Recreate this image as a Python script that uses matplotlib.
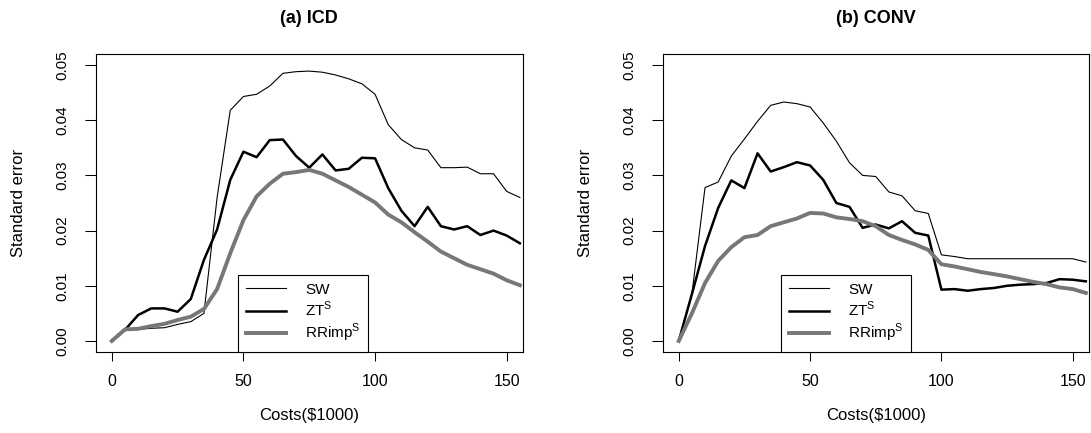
import numpy as np
import matplotlib
matplotlib.use("Agg")
import matplotlib.pyplot as plt

plt.rcParams['font.family'] = ['Liberation Sans', 'DejaVu Sans']
plt.rcParams['mathtext.fontset'] = 'custom'
plt.rcParams['mathtext.rm'] = 'Liberation Sans'

# costs in $1000
costs = [0, 5, 10, 15, 20, 25, 30, 35, 40, 45, 50, 55, 60, 65, 70, 75,
         80, 85, 90, 95, 100, 105, 110, 115, 120, 125, 130, 135, 140, 145, 150, 155]

# (a) ICD
icd_sw = [0.0, 0.0021, 0.0021, 0.0023, 0.0024, 0.0030, 0.0035, 0.0050, 0.0260, 0.0418,
          0.0443, 0.0447, 0.0462, 0.0485, 0.0488, 0.0489, 0.0487, 0.0482, 0.0475, 0.0466,
          0.0447, 0.0392, 0.0365, 0.0350, 0.0346, 0.0314, 0.0314, 0.0315, 0.0303, 0.0303,
          0.0271, 0.0260]
icd_zt = [0.0, 0.0020, 0.0047, 0.0059, 0.0059, 0.0053, 0.0076, 0.0147, 0.0202, 0.0292,
          0.0343, 0.0333, 0.0364, 0.0365, 0.0335, 0.0314, 0.0338, 0.0309, 0.0312, 0.0332,
          0.0331, 0.0277, 0.0236, 0.0208, 0.0243, 0.0208, 0.0202, 0.0208, 0.0192, 0.0200,
          0.0191, 0.0177]
icd_rr = [0.0, 0.0021, 0.0022, 0.0027, 0.0031, 0.0038, 0.0044, 0.0058, 0.0094, 0.0159,
          0.0219, 0.0262, 0.0285, 0.0303, 0.0306, 0.0310, 0.0303, 0.0291, 0.0279, 0.0265,
          0.0251, 0.0229, 0.0215, 0.0197, 0.0180, 0.0162, 0.0150, 0.0138, 0.0130, 0.0122,
          0.0110, 0.0101]

# (b) CONV
conv_sw = [0.0, 0.0085, 0.0278, 0.0288, 0.0335, 0.0366, 0.0398, 0.0427, 0.0433, 0.0430,
           0.0424, 0.0395, 0.0362, 0.0323, 0.0300, 0.0298, 0.0270, 0.0263, 0.0236, 0.0231,
           0.0156, 0.0153, 0.0149, 0.0149, 0.0149, 0.0149, 0.0149, 0.0149, 0.0149, 0.0149,
           0.0149, 0.0143]
conv_zt = [0.0, 0.0085, 0.0172, 0.0241, 0.0291, 0.0277, 0.0340, 0.0307, 0.0315, 0.0324,
           0.0318, 0.0292, 0.0250, 0.0243, 0.0205, 0.0211, 0.0204, 0.0217, 0.0196, 0.0191,
           0.0093, 0.0094, 0.0091, 0.0094, 0.0096, 0.0100, 0.0102, 0.0103, 0.0105, 0.0112,
           0.0111, 0.0108]
conv_rr = [0.0, 0.0050, 0.0105, 0.0145, 0.0170, 0.0188, 0.0192, 0.0208, 0.0215, 0.0222,
           0.0232, 0.0231, 0.0224, 0.0221, 0.0217, 0.0208, 0.0192, 0.0183, 0.0175, 0.0165,
           0.0139, 0.0135, 0.0130, 0.0125, 0.0121, 0.0117, 0.0112, 0.0107, 0.0103, 0.0097,
           0.0094, 0.0087]

titles = ["(a) ICD", "(b) CONV"]
labels = ["SW", r"ZT$^{\mathrm{S}}$", r"RRimp$^{\mathrm{S}}$"]
legend_x = [48, 39]   # left edge of legend box, in cost units
xticks = [0, 50, 100, 150]
yticks = [0.0, 0.01, 0.02, 0.03, 0.04, 0.05]

fig = plt.figure(figsize=(10.91, 4.33), dpi=100)
W, H = 1091, 433
ax1 = fig.add_axes([96 / W, 81 / H, 426.5 / W, 298 / H])
ax2 = fig.add_axes([663 / W, 81 / H, 425.5 / W, 298 / H])

panels = [(ax1, icd_sw, icd_zt, icd_rr), (ax2, conv_sw, conv_zt, conv_rr)]
for (ax, sw, zt, rr), title, lx in zip(panels, titles, legend_x):
    ax.plot(costs, sw, color='black', lw=0.8, label=labels[0])
    ax.plot(costs, zt, color='black', lw=1.8, label=labels[1])
    ax.plot(costs, rr, color='#777777', lw=2.8, label=labels[2])
    ax.set_xlim(-6, 156)
    ax.set_ylim(-0.002, 0.052)
    ax.set_xticks(xticks)
    ax.set_xticklabels([str(t) for t in xticks], fontsize=11.5)
    ax.set_yticks(yticks)
    ax.set_yticklabels(['%.2f' % t for t in yticks], fontsize=11,
                       rotation=90, va='center')
    ax.tick_params(axis='x', direction='out', length=6.5, width=0.75, pad=9)
    ax.tick_params(axis='y', direction='out', length=8, width=0.75, pad=11)
    for s in ax.spines.values():
        s.set_linewidth(0.8)
        s.set_color('black')
    ax.set_title(title, fontsize=13, fontweight='bold', pad=22)
    ax.set_xlabel('Costs($1000)', fontsize=12, labelpad=14)
    ax.set_ylabel('Standard error', fontsize=12, labelpad=21)
    leg = ax.legend(loc='lower left', bbox_to_anchor=(lx, -0.002),
                    bbox_transform=ax.transData, borderaxespad=0,
                    fontsize=11, frameon=True, fancybox=False, edgecolor='black',
                    handlelength=2.6, handletextpad=1.3, labelspacing=0.2,
                    borderpad=0.5)
    leg.get_frame().set_linewidth(0.8)
    leg.get_frame().set_alpha(1)

fig.savefig('out.png', dpi=100)
